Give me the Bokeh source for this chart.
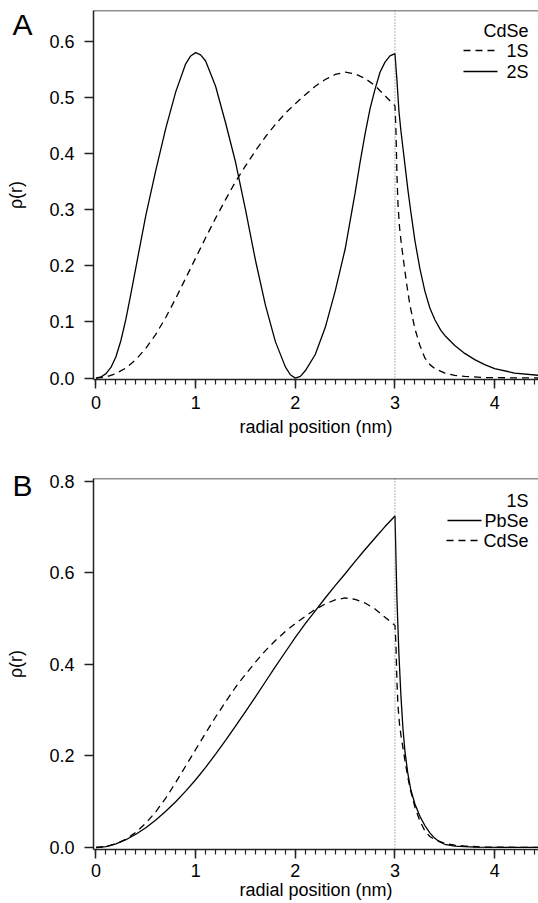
from bokeh.plotting import figure
from bokeh.models import (Range1d, FixedTicker, Label, Span, PrintfTickFormatter, LinearAxis,
                          CustomJSTickFormatter)
from bokeh.layouts import column
from bokeh.embed import file_html
from bokeh.resources import INLINE

# ---------------- data ----------------
# Panel A: CdSe, 2S (solid)
a_2s_x = [0.0, 0.05, 0.1, 0.15, 0.2, 0.25, 0.3, 0.35, 0.4, 0.5, 0.6, 0.7, 0.8, 0.9, 0.95, 1.0,
          1.05, 1.1, 1.2, 1.3, 1.4, 1.5, 1.6, 1.7, 1.8, 1.9, 1.95, 2.0, 2.05, 2.1, 2.2, 2.3,
          2.4, 2.5, 2.55, 2.6, 2.65, 2.7, 2.75, 2.8, 2.85, 2.9, 2.95, 3.0, 3.02, 3.04, 3.06,
          3.08, 3.1, 3.13, 3.16, 3.2, 3.25, 3.3, 3.35, 3.4, 3.46, 3.5, 3.6, 3.7, 3.8, 3.9, 4.0,
          4.2, 4.44]
a_2s_y = [0.0, 0.002, 0.008, 0.019, 0.038, 0.067, 0.105, 0.15, 0.197, 0.29, 0.37, 0.445, 0.51,
          0.56, 0.574, 0.58, 0.576, 0.565, 0.52, 0.455, 0.385, 0.30, 0.21, 0.13, 0.065, 0.02,
          0.006, 0.0, 0.003, 0.013, 0.042, 0.09, 0.155, 0.23, 0.28, 0.33, 0.385, 0.435, 0.48,
          0.515, 0.545, 0.563, 0.574, 0.578, 0.53, 0.475, 0.44, 0.41, 0.38, 0.335, 0.295,
          0.245, 0.195, 0.155, 0.125, 0.104, 0.085, 0.076, 0.058, 0.044, 0.033, 0.024, 0.017,
          0.009, 0.005]

# Panel A: CdSe, 1S (dashed)
a_1s_x = [0.0, 0.1, 0.2, 0.3, 0.4, 0.5, 0.6, 0.7, 0.8, 0.9, 1.0, 1.1, 1.2, 1.3, 1.4, 1.5, 1.6,
          1.7, 1.8, 1.9, 2.0, 2.1, 2.2, 2.3, 2.4, 2.5, 2.6, 2.7, 2.8, 2.9, 3.0, 3.01, 3.02, 3.03,
          3.045, 3.06, 3.1, 3.126, 3.15, 3.2, 3.25, 3.3, 3.35, 3.4, 3.5, 3.6, 3.7, 3.9, 4.2, 4.44]
a_1s_y = [0.0, 0.002, 0.008, 0.018, 0.033, 0.053, 0.078, 0.108, 0.142, 0.178, 0.214, 0.25, 0.285,
          0.318, 0.35, 0.378, 0.405, 0.43, 0.452, 0.472, 0.489, 0.505, 0.52, 0.532, 0.541, 0.545,
          0.542, 0.534, 0.521, 0.503, 0.485, 0.44, 0.36, 0.31, 0.27, 0.245, 0.19, 0.157, 0.13,
          0.088, 0.058, 0.036, 0.024, 0.017, 0.009, 0.005, 0.003, 0.001, 0.0004, 0.0002]

# Panel B: 1S, PbSe (solid)
b_pbse_x = [0.0, 0.1, 0.2, 0.3, 0.4, 0.5, 0.6, 0.7, 0.8, 0.9, 1.0, 1.1, 1.2, 1.3, 1.4, 1.5, 1.6,
            1.7, 1.8, 1.9, 2.0, 2.1, 2.2, 2.3, 2.4, 2.5, 2.6, 2.7, 2.8, 2.9, 3.0, 3.005, 3.01,
            3.02, 3.04, 3.06, 3.08, 3.1, 3.13, 3.16, 3.2, 3.25, 3.3, 3.35, 3.4, 3.45, 3.5, 3.6,
            3.8, 4.1, 4.44]
b_pbse_y = [0.0, 0.002, 0.008, 0.017, 0.029, 0.043, 0.06, 0.079, 0.1, 0.123, 0.148, 0.175,
            0.204, 0.234, 0.265, 0.297, 0.329, 0.362, 0.395, 0.427, 0.459, 0.489, 0.517, 0.545,
            0.572, 0.598, 0.625, 0.651, 0.676, 0.701, 0.724, 0.68, 0.63, 0.54, 0.42, 0.33, 0.26,
            0.21, 0.16, 0.125, 0.095, 0.068, 0.048, 0.032, 0.02, 0.012, 0.007, 0.003, 0.001,
            0.0003, 0.0001]

# Panel B: 1S, CdSe (dashed) - same state as panel A's 1S
b_cdse_x = list(a_1s_x)
b_cdse_y = list(a_1s_y)

x_major = [0, 1, 2, 3, 4]
x_minor = [round(i * 0.1, 1) for i in range(0, 45)]
a_yticks = [0.0, 0.1, 0.2, 0.3, 0.4, 0.5, 0.6]
b_yticks = [0.0, 0.2, 0.4, 0.6, 0.8]
shell_radius = 3.0

a_legend_title = "CdSe"
a_legend_labels = ["1S", "2S"]
b_legend_title = "1S"
b_legend_labels = ["PbSe", "CdSe"]

# ---------------- styling / layout ----------------
FONT = "Liberation Sans"
FS = "18px"
DASH = "7 5"
LW = 1.3
X0, X1 = -0.025, 4.44
FRAME_LEFT = 93
FRAME_W = 445
W = 538


def make_fig(height, top, bottom, y0, y1, yticks, tick_standoff, label_standoff):
    p = figure(width=W, height=height, output_backend="svg", toolbar_location=None,
               x_range=Range1d(X0, X1), y_range=Range1d(y0, y1),
               min_border_left=FRAME_LEFT, min_border_right=0, min_border_top=top,
               min_border_bottom=bottom, x_axis_label="radial position (nm)",
               y_axis_label="ρ(r)")
    p.grid.visible = False
    p.outline_line_color = None
    xa = p.xaxis[0]
    xa.ticker = FixedTicker(ticks=x_major, minor_ticks=x_minor)
    ya = p.yaxis[0]
    ya.ticker = FixedTicker(ticks=yticks, minor_ticks=[])
    ya.formatter = PrintfTickFormatter(format="%.1f")
    for ax in (xa, ya):
        ax.axis_line_width = 1.5
        ax.axis_line_color = "#222222"
        ax.major_tick_line_width = 1.5
        ax.major_tick_line_color = "#222222"
        ax.minor_tick_line_width = 1.2
        ax.minor_tick_line_color = "#222222"
        ax.major_tick_in = 0
        ax.major_tick_out = 9
        ax.minor_tick_in = 0
        ax.minor_tick_out = 5
        ax.major_label_text_font = FONT
        ax.major_label_text_font_size = FS
        ax.major_label_text_color = "black"
        ax.axis_label_text_font = FONT
        ax.axis_label_text_font_size = FS
        ax.axis_label_text_font_style = "normal"
        ax.axis_label_text_color = "black"
    xa.major_label_standoff = tick_standoff
    xa.axis_label_standoff = label_standoff
    ya.major_label_standoff = 10
    ya.axis_label_standoff = 20
    # top border of the frame
    p.add_layout(Span(location=y1, dimension="width", line_color="#222222", line_width=1.5))
    # dotted line at the shell radius
    p.add_layout(Span(location=shell_radius, dimension="height", line_color="#666666",
                      line_dash="1 2", line_width=1))
    return p


def px2x(px):
    return X0 + (px - FRAME_LEFT) / FRAME_W * (X1 - X0)


def px2y(py, frame_top, frame_h, y0, y1):
    return y1 - (py - frame_top) / frame_h * (y1 - y0)


def add_text(p, x, y, text, size=FS, align="right", baseline="middle"):
    p.add_layout(Label(x=x, y=y, text=text, text_font=FONT, text_font_size=size,
                       text_align=align, text_baseline=baseline, text_color="black"))


def panel_letter(p, letter, y_at):
    # an extra, bare axis on the left whose single tick label is the panel letter
    ax = LinearAxis(ticker=FixedTicker(ticks=[y_at], minor_ticks=[]),
                    formatter=CustomJSTickFormatter(code="return %r;" % letter),
                    axis_line_color=None, major_tick_line_color=None,
                    minor_tick_line_color=None, major_tick_out=0, major_tick_in=0,
                    minor_tick_out=0, minor_tick_in=0, major_label_standoff=-29,
                    major_label_text_font=FONT, major_label_text_font_size="30px",
                    major_label_text_color="black")
    p.add_layout(ax, "left")


# ---------------- panel A ----------------
A_Y0, A_Y1 = -0.0025, 0.655
A_TOP, A_H = 10, 369
pa = make_fig(440, A_TOP, 61, A_Y0, A_Y1, a_yticks, 7, 5)
pa.line(a_1s_x, a_1s_y, line_color="black", line_width=LW, line_dash=DASH)
pa.line(a_2s_x, a_2s_y, line_color="black", line_width=LW)


def ay(py):
    return px2y(py, A_TOP, A_H, A_Y0, A_Y1)


add_text(pa, px2x(528), ay(30), a_legend_title)
add_text(pa, px2x(528), ay(50), a_legend_labels[0])
add_text(pa, px2x(528), ay(71), a_legend_labels[1])
pa.line([px2x(463), px2x(494)], [ay(50), ay(50)], line_color="black", line_width=LW,
        line_dash=DASH)
pa.line([px2x(463), px2x(497)], [ay(71), ay(71)], line_color="black", line_width=LW)
panel_letter(pa, "A", ay(24))

# ---------------- panel B ----------------
B_Y0, B_Y1 = -0.0044, 0.806
B_TOP, B_H = 478, 371
pb = make_fig(463, B_TOP - 440, 54, B_Y0, B_Y1, b_yticks, 5, 0)
pb.line(b_cdse_x, b_cdse_y, line_color="black", line_width=LW, line_dash=DASH)
pb.line(b_pbse_x, b_pbse_y, line_color="black", line_width=LW)


def by(py):
    return px2y(py, B_TOP, B_H, B_Y0, B_Y1)


add_text(pb, px2x(528), by(500), b_legend_title)
add_text(pb, px2x(528), by(520), b_legend_labels[0])
add_text(pb, px2x(528), by(540), b_legend_labels[1])
pb.line([px2x(447), px2x(481)], [by(520), by(520)], line_color="black", line_width=LW)
pb.line([px2x(446), px2x(477)], [by(540), by(540)], line_color="black", line_width=LW,
        line_dash=DASH)
panel_letter(pb, "B", by(485))

layout = column(pa, pb)
open("out.html", "w").write(file_html(layout, INLINE))
